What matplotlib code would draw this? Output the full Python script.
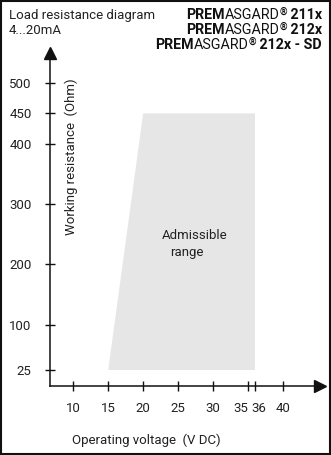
import matplotlib.pyplot as plt
import matplotlib.transforms as mtransforms
from matplotlib.patches import Rectangle

# DATA
y_ticks = [25, 100, 200, 300, 400, 450, 500]
x_ticks = [10, 15, 20, 25, 30, 35, 36, 40]
area_v = [15, 20, 36, 36]        # admissible range corners (V DC)
area_r = [25, 450, 450, 25]      # admissible range corners (Ohm)
products = ["211x", "212x", "212x - SD"]

plt.rcParams['font.family'] = ['Roboto', 'DejaVu Sans']
FS = 9.5
TXT = '#222222'

W, H = 331, 455
fig = plt.figure(figsize=(W / 100, H / 100), dpi=100)

# axes placed in pixel terms
x0, x1 = 49.5, 320
y0, y1 = 386, 53
ax = fig.add_axes([x0 / W, 1 - y0 / H, (x1 - x0) / W, (y0 - y1) / H])
ax.set_xlim(6.6, 45.3)
ax.set_ylim(-1.5, 550)

ax.fill(area_v, area_r, color='#e6e6e6', lw=0, zorder=1)
ax.text(27.4, 247, "Admissible", ha='center', va='center', fontsize=FS, color=TXT)
ax.text(26.2, 220, "range", ha='center', va='center', fontsize=FS, color=TXT)

for s in ['top', 'right']:
    ax.spines[s].set_visible(False)
for s in ['left', 'bottom']:
    ax.spines[s].set_linewidth(1.1)
    ax.spines[s].set_color('#111111')

ax.set_xticks(x_ticks)
ax.set_yticks(y_ticks)
ax.set_xticklabels([str(v) for v in x_ticks])
ax.set_yticklabels([str(v) for v in y_ticks])
ax.tick_params(direction='inout', length=7.5, width=1.0, color='#111111',
               labelsize=FS, labelcolor=TXT)
ax.tick_params(axis='y', pad=9)
ax.tick_params(axis='x', pad=8)

# nudge crowded 35 / 36 labels apart, as in the original
shifts = {35: -5 / 72, 36: 3 / 72}
for v, lab in zip(x_ticks, ax.get_xticklabels()):
    if v in shifts:
        lab.set_transform(lab.get_transform() +
                          mtransforms.ScaledTranslation(shifts[v], 0, fig.dpi_scale_trans))

# arrow heads
ax.plot(1, 0, marker='>', color='#111111', markersize=8.5, transform=ax.transAxes, clip_on=False)
ax.plot(0, 1, marker='^', color='#111111', markersize=8.5, transform=ax.transAxes, clip_on=False)

fig.text(71 / W, 1 - 157 / H, "Working resistance  (Ohm)", rotation=90,
         ha='center', va='center', fontsize=FS, color=TXT)
fig.text(72 / W, 1 - 440 / H, "Operating voltage  (V DC)",
         ha='left', va='center', fontsize=FS, color=TXT)

fig.text(9 / W, 1 - 15 / H, "Load resistance diagram", ha='left', va='center',
         fontsize=FS, color=TXT)
fig.text(9 / W, 1 - 31 / H, "4...20mA", ha='left', va='center',
         fontsize=FS, color=TXT)

# product names with mixed weights, right aligned
renderer = fig.canvas.get_renderer()
right = 322
PFS = 10.3
for i, p in enumerate(products):
    yy = 1 - (15 + i * 15) / H
    xr = right
    parts = [(" " + p, 'bold', PFS, 0), ("\u00ae", 'bold', 7, 3),
             ("ASGARD", 'normal', PFS, 0), ("PREM", 'bold', PFS, 0)]
    for txt, wt, fs, dy in parts:
        t = fig.text(xr / W, yy + dy / H, txt, ha='right', va='center', fontsize=fs,
                     fontweight=wt, color='#111111')
        bb = t.get_window_extent(renderer)
        xr -= bb.width

fig.add_artist(Rectangle((0.002, 0.002), 0.996, 0.996, transform=fig.transFigure,
                         fill=False, lw=1.5, edgecolor='#111111'))

fig.savefig('out.png', dpi=100)
